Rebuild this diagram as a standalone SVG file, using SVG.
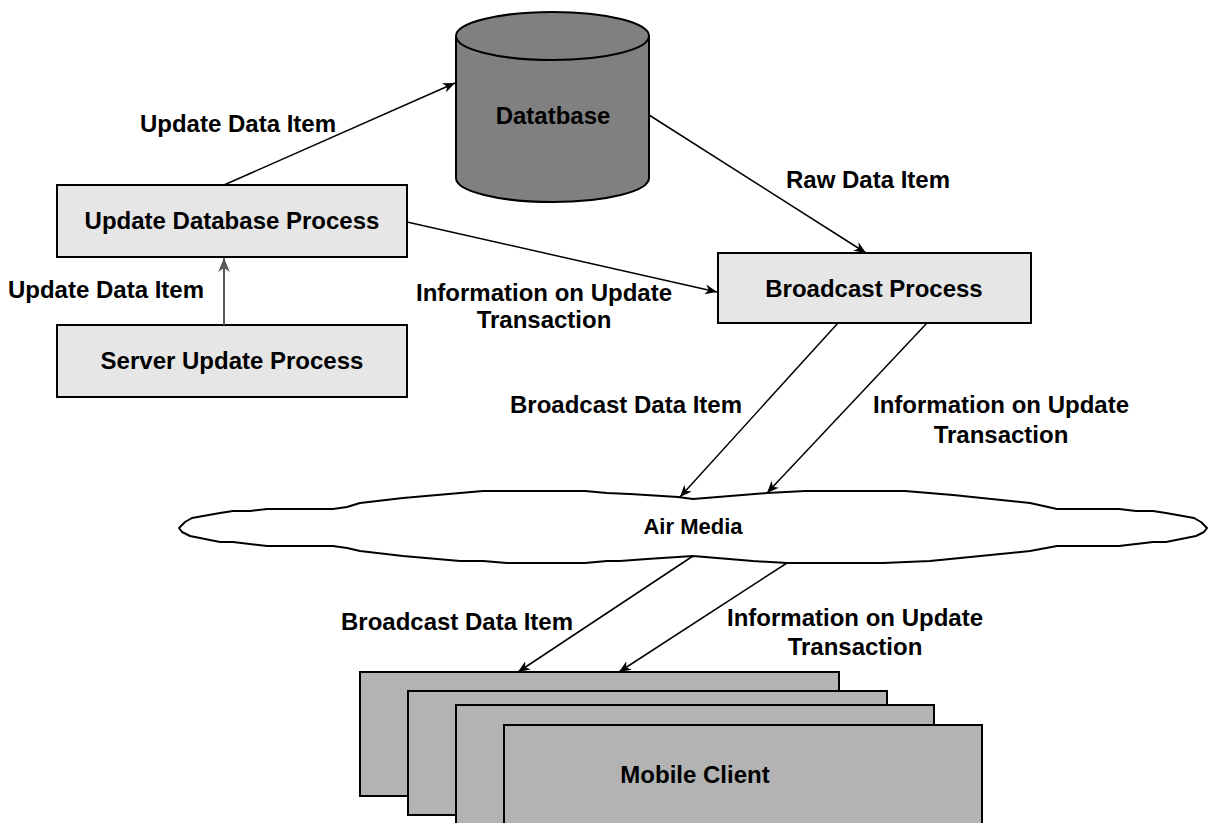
<svg xmlns="http://www.w3.org/2000/svg" width="1211" height="823" viewBox="0 0 1211 823">
  <style>
    .box { fill: #e6e6e6; stroke: #000; stroke-width: 2; }
    .client { fill: #b3b3b3; stroke: #000; stroke-width: 2; }
    .db { fill: #808080; stroke: #000; stroke-width: 2; }
    .cloud { fill: #fff; stroke: #000; stroke-width: 2; stroke-linejoin: round; }
    .lbl { font-family: "Liberation Sans", Arial, sans-serif; font-weight: bold; font-size: 24px; fill: #000; text-anchor: middle; }
    .edge { fill: none; stroke: #000; stroke-width: 1.5; marker-end: url(#arrow); }
    .edge-gray { fill: none; stroke: #595959; stroke-width: 2; marker-end: url(#arrow-gray); }
  </style>
  <defs>
    <marker id="arrow" viewBox="0 0 12 10" refX="12" refY="5" markerWidth="12" markerHeight="10" markerUnits="userSpaceOnUse" orient="auto">
      <path d="M0,0 L12,5 L0,10 L3.5,5 z" fill="#000"/>
    </marker>
    <marker id="arrow-gray" viewBox="0 0 12 10" refX="12" refY="5" markerWidth="14" markerHeight="12" markerUnits="userSpaceOnUse" orient="auto">
      <path d="M0,0 L12,5 L0,10 L3.5,5 z" fill="#595959"/>
    </marker>
  </defs>

  <rect width="1211" height="823" fill="#fff"/>

  <!-- database cylinder -->
  <g id="database">
    <path class="db" d="M456,36 L456,178 A96.5,24 0 0 0 649,178 L649,36 A96.5,24 0 0 0 456,36 Z"/>
    <path class="db" d="M456,36 A96.5,24 0 0 0 649,36"/>
    <text class="lbl" x="553" y="124">Datatbase</text>
  </g>

  <g id="update-database-process">
    <rect class="box" x="57" y="185" width="350" height="72"/>
    <text class="lbl" x="232" y="229">Update Database Process</text>
  </g>

  <g id="server-update-process">
    <rect class="box" x="57" y="325" width="350" height="72"/>
    <text class="lbl" x="232" y="369">Server Update Process</text>
  </g>

  <g id="broadcast-process">
    <rect class="box" x="718" y="253" width="313" height="70"/>
    <text class="lbl" x="874" y="297">Broadcast Process</text>
  </g>

  <g id="air-media">
    <path class="cloud" d="M179,528 L185,522 L192,518 L220,513 L233,511 L250,511 L267,509 L333,509 L347,507 L360,503 L403,498 L460,493 L483,491 L585,491 L607,493 L630,494 L678,497 L693,499 L767,493 L805,491 L905,491 L953,495 L1030,503 L1057,509 L1119,509 L1136,511 L1153,511 L1166,513 L1194,518 L1201,522 L1207,528 L1204,532 L1196,536 L1166,542 L1153,542 L1119,546 L1057,546 L1030,551 L930,561 L883,563 L805,563 L787,563 L753,561 L693,556 L647,559 L620,561 L607,561 L585,563 L507,563 L483,561 L460,561 L403,556 L360,551 L347,548 L333,546 L267,546 L233,542 L220,542 L190,536 L182,532 Z"/>
    <text class="lbl" x="693" y="534" style="font-size:22px">Air Media</text>
  </g>

  <g id="mobile-clients">
    <rect class="client" x="360" y="672" width="479" height="124"/>
    <rect class="client" x="408" y="691" width="479" height="124"/>
    <rect class="client" x="456" y="705" width="478" height="124"/>
    <rect class="client" x="504" y="725" width="478" height="124"/>
    <text class="lbl" x="695" y="783">Mobile Client</text>
  </g>

  <!-- connectors -->
  <g id="connectors">
    <line class="edge" x1="224" y1="185" x2="455" y2="83"/>
    <line class="edge" x1="649" y1="115" x2="866" y2="253"/>
    <line class="edge" x1="407" y1="222" x2="717" y2="292"/>
    <line class="edge-gray" x1="224" y1="325" x2="224" y2="258"/>
    <line class="edge" x1="838" y1="323" x2="680" y2="497"/>
    <line class="edge" x1="927" y1="323" x2="767" y2="493"/>
    <line class="edge" x1="693" y1="556" x2="518" y2="672"/>
    <line class="edge" x1="787" y1="563" x2="619" y2="672"/>
  </g>

  <!-- connector labels -->
  <g id="labels">
    <text class="lbl" x="238" y="132">Update Data Item</text>
    <text class="lbl" x="868" y="188">Raw Data Item</text>
    <text class="lbl" x="106" y="298">Update Data Item</text>
    <text class="lbl" x="544" y="301">Information on Update</text>
    <text class="lbl" x="544" y="328">Transaction</text>
    <text class="lbl" x="626" y="413">Broadcast Data Item</text>
    <text class="lbl" x="1001" y="413">Information on Update</text>
    <text class="lbl" x="1001" y="443">Transaction</text>
    <text class="lbl" x="457" y="630">Broadcast Data Item</text>
    <text class="lbl" x="855" y="626">Information on Update</text>
    <text class="lbl" x="855" y="655">Transaction</text>
  </g>
</svg>
